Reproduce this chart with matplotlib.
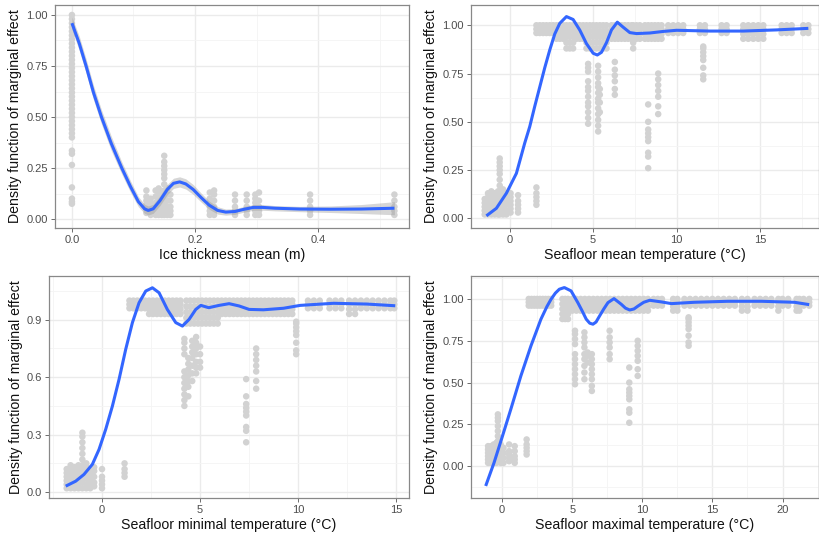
import numpy as np
import matplotlib.pyplot as plt
from matplotlib.ticker import MultipleLocator
plt.switch_backend('agg')

plt.rcParams['font.family'] = ['Liberation Sans', 'DejaVu Sans']

ylab = 'Density function of marginal effect'

# ---- panel 1: ice thickness ----
ice_stripe_x = [0.0, 0.121, 0.128, 0.136, 0.141, 0.146, 0.150, 0.155, 0.160,
                0.224, 0.231, 0.265, 0.284, 0.298, 0.304, 0.387, 0.524]
ice_stripe_y = [
    [0.075, 0.085, 0.10, 0.155, 0.265, 0.32, 0.335, 0.40, 0.42, 0.44, 0.46,
     0.48, 0.50, 0.52, 0.54, 0.56, 0.58, 0.60, 0.62, 0.64, 0.66, 0.68, 0.70,
     0.72, 0.74, 0.76, 0.78, 0.80, 0.82, 0.84, 0.86, 0.88, 0.90, 0.92, 0.94,
     0.96, 0.98, 1.00],
    [0.03, 0.05, 0.07, 0.09, 0.11, 0.14],
    [0.02, 0.04, 0.06, 0.08, 0.10],
    [0.02, 0.04, 0.06, 0.08, 0.11, 0.14],
    [0.02, 0.04, 0.06, 0.09, 0.12, 0.15],
    [0.02, 0.04, 0.06, 0.08, 0.10, 0.13],
    [0.02, 0.05, 0.08, 0.11, 0.14, 0.17, 0.20, 0.22, 0.24, 0.26, 0.28, 0.31],
    [0.02, 0.04, 0.06, 0.09, 0.12, 0.15],
    [0.02, 0.04, 0.06, 0.09, 0.12],
    [0.02, 0.04, 0.06, 0.08, 0.10, 0.13],
    [0.02, 0.04, 0.06, 0.09, 0.12, 0.14],
    [0.02, 0.04, 0.06, 0.09, 0.12],
    [0.02, 0.04, 0.06, 0.09, 0.12],
    [0.02, 0.04, 0.06, 0.08, 0.10, 0.12],
    [0.02, 0.04, 0.06, 0.09, 0.13],
    [0.02, 0.04, 0.06, 0.09, 0.12],
    [0.02, 0.04, 0.06, 0.09, 0.12],
]
ice_curve_x = [0.0, 0.012, 0.023, 0.035, 0.048, 0.064, 0.081, 0.095, 0.108,
               0.118, 0.124, 0.132, 0.143, 0.155, 0.165, 0.175, 0.185, 0.197,
               0.21, 0.223, 0.237, 0.25, 0.265, 0.28, 0.295, 0.31, 0.33, 0.37,
               0.42, 0.47, 0.524]
ice_curve_y = [0.96, 0.86, 0.75, 0.62, 0.50, 0.37, 0.25, 0.16, 0.085, 0.05,
               0.042, 0.05, 0.09, 0.145, 0.175, 0.182, 0.172, 0.145, 0.105,
               0.068, 0.042, 0.034, 0.037, 0.048, 0.057, 0.057, 0.053, 0.049,
               0.048, 0.049, 0.053]
ice_ci = [0.03, 0.035, 0.035, 0.035, 0.035, 0.035, 0.03, 0.028, 0.025, 0.022,
          0.022, 0.022, 0.024, 0.025, 0.025, 0.025, 0.025, 0.024, 0.022, 0.02,
          0.018, 0.015, 0.014, 0.014, 0.014, 0.014, 0.013, 0.013, 0.016, 0.022,
          0.032]

# ---- panel 2: seafloor mean temperature ----
mean_stripe_x = [-1.5, -1.3, -1.1, -0.9, -0.7, -0.6, -0.4, -0.2, 0.05, 0.5, 1.6,
                 4.7, 5.3, 5.4, 6.3, 8.3, 8.9, 11.6]
mean_stripe_y = [
    [0.02, 0.04, 0.06, 0.08, 0.10],
    [0.02, 0.04, 0.06, 0.08, 0.11, 0.13],
    [0.02, 0.04, 0.06, 0.09, 0.12, 0.14],
    [0.02, 0.04, 0.06, 0.08, 0.10, 0.13],
    [0.02, 0.04, 0.07, 0.10, 0.12, 0.14],
    [0.02, 0.05, 0.08, 0.11, 0.14, 0.17, 0.20, 0.23, 0.25, 0.27, 0.29, 0.31],
    [0.02, 0.04, 0.06, 0.09, 0.12, 0.15],
    [0.02, 0.04, 0.07, 0.10, 0.13],
    [0.03, 0.05, 0.07, 0.09, 0.11, 0.13],
    [0.03, 0.05, 0.07, 0.09, 0.12],
    [0.07, 0.09, 0.11, 0.13, 0.16],
    [0.49, 0.52, 0.55, 0.58, 0.60, 0.63, 0.66, 0.68, 0.71, 0.76, 0.78, 0.80],
    [0.45, 0.48, 0.51, 0.54, 0.57, 0.60, 0.62, 0.65, 0.68, 0.70, 0.73, 0.76, 0.79],
    [0.55, 0.60, 0.64, 0.67],
    [0.64, 0.67, 0.71, 0.74, 0.77, 0.81],
    [0.26, 0.32, 0.34, 0.40, 0.42, 0.44, 0.46, 0.50, 0.59],
    [0.54, 0.58, 0.63, 0.66, 0.69, 0.72, 0.75],
    [0.72, 0.74, 0.78, 0.82, 0.84, 0.86, 0.88, 0.89],
]
band_thin = [0.96, 0.98, 1.0]
band_wide = [0.93, 0.955, 0.98, 1.0]
band_widest = [0.88, 0.91, 0.94, 0.97, 1.0]
mean_thin_x = [1.6, 1.8, 2.0, 2.2, 2.4, 2.6, 9.5, 9.8, 10.1, 10.4, 11.4, 11.7,
               12.7, 13.0, 16.3, 16.6, 16.9, 17.6, 17.9]
mean_wide_x = [2.8, 3.0, 3.2, 4.0, 4.2, 4.4, 6.1, 6.3, 6.5, 6.7, 6.9, 7.1, 7.3,
               7.6, 7.8, 8.1, 8.3, 8.5, 8.7, 8.9, 9.1, 14.0, 14.3, 14.6, 14.9, 15.2]
mean_widest_x = [3.4, 3.6, 3.8, 4.6, 4.8, 5.0, 5.2, 5.4, 5.6, 5.8, 7.4]
mean_curve_x = [-1.4, -0.8, -0.2, 0.4, 0.9, 1.2, 1.5, 1.8, 2.1, 2.4, 2.7, 3.0,
                3.4, 3.8, 4.2, 4.6, 5.0, 5.25, 5.5, 5.8, 6.1, 6.45, 6.8, 7.2,
                7.6, 8.4, 9.2, 10.0, 12.0, 14.0, 16.0, 17.9]
mean_curve_y = [0.013, 0.052, 0.13, 0.233, 0.39, 0.475, 0.58, 0.68, 0.78,
                0.872, 0.955, 1.01, 1.045, 1.03, 0.975, 0.905, 0.855, 0.846,
                0.86, 0.91, 0.976, 1.016, 0.99, 0.962, 0.957, 0.96, 0.968,
                0.974, 0.97, 0.97, 0.976, 0.984]

# ---- panel 3: seafloor minimal temperature ----
min_stripe_x = [-1.8, -1.6, -1.4, -1.2, -1.0, -0.8, -0.6, -0.4, 0.0, 1.15,
                4.2, 4.4, 4.6, 4.8, 5.0, 7.35, 7.86, 9.9]
min_stripe_y = [
    [0.02, 0.04, 0.06, 0.08, 0.10, 0.12],
    [0.02, 0.04, 0.06, 0.09, 0.12, 0.14],
    [0.02, 0.04, 0.07, 0.10, 0.13],
    [0.02, 0.04, 0.06, 0.09, 0.12, 0.14],
    [0.02, 0.05, 0.08, 0.11, 0.14, 0.17, 0.20, 0.23, 0.26, 0.29, 0.31],
    [0.02, 0.04, 0.07, 0.10, 0.13, 0.15],
    [0.02, 0.04, 0.06, 0.09, 0.12],
    [0.03, 0.05, 0.08, 0.11, 0.13],
    [0.02, 0.04, 0.06, 0.08, 0.12],
    [0.08, 0.10, 0.12, 0.15],
    [0.45, 0.48, 0.51, 0.54, 0.57, 0.60, 0.63, 0.72, 0.75, 0.78, 0.80],
    [0.50, 0.55, 0.58, 0.61, 0.64, 0.67, 0.70],
    [0.58, 0.62, 0.66, 0.70, 0.73, 0.76, 0.79],
    [0.62, 0.65, 0.68, 0.72, 0.75, 0.78, 0.81],
    [0.65, 0.68, 0.72, 0.76],
    [0.26, 0.32, 0.34, 0.40, 0.42, 0.44, 0.46, 0.50, 0.59],
    [0.54, 0.58, 0.63, 0.66, 0.69, 0.72, 0.75],
    [0.72, 0.74, 0.78, 0.82, 0.84, 0.86, 0.88, 0.89],
]
min_thin_x = [1.4, 1.6, 1.8, 2.0, 2.2, 10.5, 10.8, 11.1, 11.6, 11.9, 12.2,
              13.2, 13.5, 13.8, 14.1, 14.4, 14.7, 14.9]
min_wide_x = [2.4, 2.6, 2.8, 3.0, 3.2, 3.4, 3.6, 3.8, 4.0, 6.1, 6.3, 6.5, 6.7,
              6.9, 7.1, 7.3, 7.5, 7.7, 7.9, 8.1, 8.3, 8.5, 8.7, 8.9, 9.1, 9.3,
              9.5, 9.7, 12.6, 12.9]
min_widest_x = [4.3, 4.5, 4.7, 4.9, 5.1, 5.3, 5.5, 5.7, 5.9]
min_curve_x = [-1.85, -1.34, -0.92, -0.49, -0.15, 0.19, 0.53, 0.87, 1.21,
               1.55, 1.89, 2.23, 2.57, 2.91, 3.33, 3.76, 4.1, 4.44, 4.78, 5.04,
               5.44, 5.97, 6.48, 6.99, 7.5, 8.23, 9.25, 10.1, 11.8, 13.5, 14.95]
min_curve_y = [0.031, 0.057, 0.092, 0.145, 0.223, 0.328, 0.449, 0.589, 0.746,
               0.885, 0.989, 1.05, 1.067, 1.041, 0.954, 0.885, 0.867, 0.902,
               0.954, 0.975, 0.963, 0.975, 0.984, 0.972, 0.954, 0.952, 0.96,
               0.975, 0.986, 0.982, 0.973]

# ---- panel 4: seafloor maximal temperature ----
max_stripe_x = [-1.0, -0.8, -0.6, -0.4, -0.3, -0.1, 0.1, 0.5, 0.9, 1.75,
                5.2, 5.87, 6.1, 6.4, 7.67, 9.07, 9.67, 13.3]
max_stripe_y = [
    [0.02, 0.04, 0.06, 0.08, 0.10, 0.12],
    [0.02, 0.04, 0.06, 0.09, 0.12],
    [0.02, 0.04, 0.07, 0.10, 0.13],
    [0.02, 0.04, 0.06, 0.09, 0.12, 0.14],
    [0.15, 0.18, 0.21, 0.24, 0.27, 0.29, 0.31],
    [0.02, 0.04, 0.07, 0.10, 0.13],
    [0.02, 0.05, 0.08, 0.11],
    [0.03, 0.05, 0.07, 0.09, 0.13],
    [0.02, 0.04, 0.06, 0.09, 0.12],
    [0.07, 0.09, 0.11, 0.13, 0.16],
    [0.49, 0.52, 0.55, 0.58, 0.61, 0.64, 0.67, 0.73, 0.76, 0.79, 0.81],
    [0.52, 0.56, 0.60, 0.64, 0.67, 0.71, 0.74, 0.77, 0.80],
    [0.62, 0.66, 0.68],
    [0.45, 0.48, 0.52, 0.55, 0.58, 0.61, 0.64, 0.67],
    [0.64, 0.67, 0.71, 0.74, 0.77, 0.81],
    [0.26, 0.32, 0.34, 0.40, 0.42, 0.44, 0.46, 0.50, 0.59],
    [0.54, 0.58, 0.63, 0.66, 0.69, 0.72, 0.75],
    [0.72, 0.74, 0.78, 0.82, 0.84, 0.86, 0.88, 0.89],
]
max_thin_x = [1.9, 2.1, 2.3, 2.5, 2.7, 2.9, 3.1, 3.3, 3.5, 10.8, 11.1, 11.4,
              13.0, 13.4, 13.8, 14.2, 14.6, 15.0, 15.4, 15.8, 16.2, 16.6, 18.0,
              18.4, 18.8, 19.2, 20.0, 20.4, 21.5, 21.9]
max_wide_x = [5.0, 5.3, 5.6, 5.9, 6.2, 6.5, 6.8, 7.1, 7.4, 7.7, 8.0, 8.3, 8.6,
              8.9, 9.2, 9.5, 9.8, 10.1, 10.4, 12.2, 12.5, 17.1, 17.5, 19.7,
              21.0, 21.2]
max_widest_x = [4.3, 4.5, 4.7]
max_curve_x = [-1.17, -0.57, 0.03, 0.62, 1.34, 2.06, 2.77, 3.2, 3.49, 3.8,
               4.08, 4.44, 4.92, 5.4, 5.7, 6.0, 6.25, 6.48, 6.7, 6.95, 7.25,
               7.55, 7.98, 8.5, 8.8, 9.1, 9.4, 9.7, 10.1, 10.53, 11.37, 12.08,
               13.7, 16.1, 18.5, 20.85, 21.9]
max_curve_y = [-0.118, 0.022, 0.181, 0.34, 0.54, 0.72, 0.879, 0.955, 0.998,
               1.035, 1.058, 1.068, 1.048, 0.978, 0.93, 0.879, 0.855, 0.849,
               0.862, 0.898, 0.94, 0.978, 1.002, 0.968, 0.945, 0.934, 0.94,
               0.958, 0.98, 0.992, 0.982, 0.972, 0.98, 0.986, 0.986, 0.98, 0.966]

pt_color = '#D2D2D2'
line_color = '#3366FF'


def draw(ax, sx, sy, bands, cx, cy, xlim, ylim, xmaj, ymaj, ylabels, xfmt,
         xlabel, ci=None):
    xs, ys = [], []
    for x, yy in zip(sx, sy):
        xs += [x] * len(yy)
        ys += list(yy)
    for bx, by in bands:
        for x in bx:
            xs += [x] * len(by)
            ys += list(by)
    ax.scatter(xs, ys, s=22, color=pt_color, edgecolors='none', zorder=2)
    if ci is not None:
        lo = np.array(cy) - np.array(ci)
        hi = np.array(cy) + np.array(ci)
        ax.fill_between(cx, lo, hi, color='#999999', alpha=0.4,
                        linewidth=0, zorder=3)
    ax.plot(cx, cy, color=line_color, lw=2.2, solid_joinstyle='round',
            solid_capstyle='butt', zorder=4)

    ax.set_xlim(*xlim)
    ax.set_ylim(*ylim)
    ax.xaxis.set_major_locator(MultipleLocator(xmaj))
    ax.xaxis.set_minor_locator(MultipleLocator(xmaj / 2))
    ax.set_yticks(ylabels[0])
    ax.set_yticklabels(ylabels[1])
    ax.yaxis.set_minor_locator(MultipleLocator(ymaj / 2))
    ax.xaxis.set_major_formatter(xfmt)
    ax.grid(which='major', color='#EBEBEB', lw=1.0, zorder=0)
    ax.grid(which='minor', color='#F4F4F4', lw=0.6, zorder=0)
    ax.set_axisbelow(True)
    ax.tick_params(which='major', length=3, width=0.6, color='#555555',
                   labelsize=8, labelcolor='#4D4D4D', pad=2)
    ax.tick_params(which='minor', length=0)
    for s in ax.spines.values():
        s.set_color('#888888')
        s.set_linewidth(0.9)
    ax.set_xlabel(xlabel, fontsize=10.2, color='#111111', labelpad=2)
    ax.set_ylabel(ylab, fontsize=10.2, color='#111111', labelpad=3)


fig = plt.figure(figsize=(8.2, 5.37), dpi=100)
ax1 = fig.add_axes([0.067, 0.5754, 0.432, 0.4153])
ax2 = fig.add_axes([0.574, 0.5754, 0.4248, 0.4153])
ax3 = fig.add_axes([0.0598, 0.0726, 0.4392, 0.4129])
ax4 = fig.add_axes([0.574, 0.0726, 0.4248, 0.4134])

q_ticks = ([0.0, 0.25, 0.5, 0.75, 1.0], ['0.00', '0.25', '0.50', '0.75', '1.00'])

draw(ax1, ice_stripe_x, ice_stripe_y, [], ice_curve_x, ice_curve_y,
     (-0.0276, 0.548), (-0.044, 1.049), 0.2, 0.25, q_ticks,
     lambda v, p: '%.1f' % v, 'Ice thickness mean (m)', ci=ice_ci)
draw(ax2, mean_stripe_x, mean_stripe_y,
     [(mean_thin_x, band_thin), (mean_wide_x, band_wide),
      (mean_widest_x, band_widest)],
     mean_curve_x, mean_curve_y, (-2.34, 18.54), (-0.05, 1.105), 5, 0.25,
     q_ticks, lambda v, p: '%d' % v, 'Seafloor mean temperature (°C)')
draw(ax3, min_stripe_x, min_stripe_y,
     [(min_thin_x, band_thin), (min_wide_x, band_wide),
      (min_widest_x, band_widest)],
     min_curve_x, min_curve_y, (-2.7, 15.66), (-0.031, 1.127), 5, 0.3,
     ([0.0, 0.3, 0.6, 0.9], ['0.0', '0.3', '0.6', '0.9']),
     lambda v, p: '%d' % v, 'Seafloor minimal temperature (°C)')
draw(ax4, max_stripe_x, max_stripe_y,
     [(max_thin_x, band_thin), (max_wide_x, band_wide),
      (max_widest_x, band_widest)],
     max_curve_x, max_curve_y, (-2.24, 22.6), (-0.19, 1.137), 5, 0.25,
     q_ticks, lambda v, p: '%d' % v, 'Seafloor maximal temperature (°C)')

fig.savefig('out.png', dpi=100)
